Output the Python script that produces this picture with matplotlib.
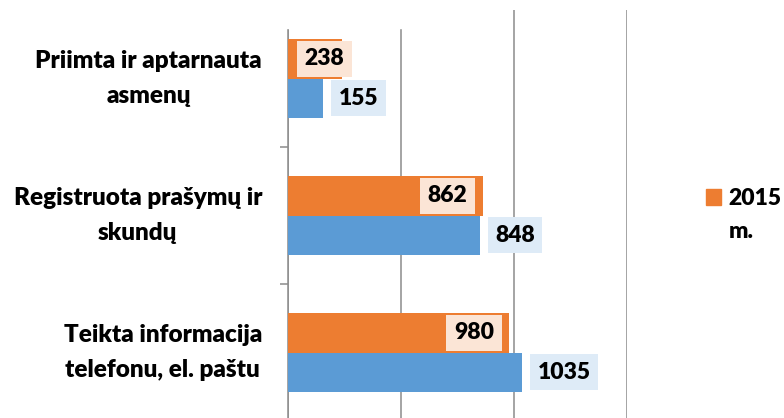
import matplotlib
matplotlib.use("Agg")
import matplotlib.pyplot as plt
from matplotlib.patches import Patch, Rectangle
from matplotlib.transforms import blended_transform_factory

plt.rcParams['font.family'] = ['Lato', 'DejaVu Sans']
WEIGHT = 'heavy'

categories = ["Priimta ir aptarnauta\nasmenų",
              "Registruota prašymų ir\nskundų",
              "Teikta informacija\ntelefonu, el. paštu"]
series_names = ["2015", "2014 m."]
values_2015 = [238, 862, 980]
values_2014 = [155, 848, 1035]

ORANGE = "#ED7D31"
BLUE = "#5B9BD5"
ORANGE_BOX = "#FBE5D6"
BLUE_BOX = "#DEEBF7"
GRID = "#8C8C8C"

W, H = 784, 418
fig = plt.figure(figsize=(W / 100, H / 100), dpi=100)
ax = fig.add_axes([288 / W, 1 - 421 / H, 339 / W, 411 / H])

xmax = 1500
ax.set_xlim(0, xmax)
ax.set_ylim(2.5, -0.5)
px = xmax / 339.0  # data units per pixel

bh = 0.285
ypos = list(range(len(categories)))
y_or = [y - bh / 2 for y in ypos]
y_bl = [y + bh / 2 for y in ypos]
ax.barh(y_or, values_2015, height=bh, color=ORANGE, zorder=3, label=series_names[0])
ax.barh(y_bl, values_2014, height=bh, color=BLUE, zorder=3, label=series_names[1])

fs = 16.5
# orange labels: inside end
for v, y in zip(values_2015, y_or):
    xc = max(v - 35.5 * px, 36.5 * px)
    ax.text(xc, y, str(v), ha='center', va='center', fontsize=fs,
            fontweight=WEIGHT, color='black', zorder=5,
            bbox=dict(boxstyle='square,pad=0.33', fc=ORANGE_BOX, ec='none'))
# blue labels: outside end
for v, y in zip(values_2014, y_bl):
    ax.text(v + 15.5 * px, y, str(v), ha='left', va='center', fontsize=fs,
            fontweight=WEIGHT, color='black', zorder=5,
            bbox=dict(boxstyle='square,pad=0.33', fc=BLUE_BOX, ec='none'))

# grid
ax.set_xticks([0, 500, 1000, 1500])
ax.xaxis.grid(True, color=GRID, linewidth=1.1, zorder=0)
ax.tick_params(axis='x', length=0, labelbottom=False)

# y axis: ticks at category boundaries
ax.set_yticks([0.5, 1.5])
ax.set_yticklabels([])
ax.tick_params(axis='y', which='major', length=5.8, width=1.1, color=GRID)

# category labels
trans = blended_transform_factory(ax.transAxes, ax.transData)
for y, c in zip(ypos, categories):
    ax.annotate(c, xy=(0, y), xycoords=trans, xytext=(-18.7, 0),
                textcoords='offset points', ha='right', va='center',
                multialignment='center', fontsize=17.5, fontweight=WEIGHT,
                linespacing=1.7, annotation_clip=False)

for s in ['top', 'right', 'bottom']:
    ax.spines[s].set_visible(False)
ax.spines['left'].set_color(GRID)
ax.spines['left'].set_linewidth(1.1)

# legend
leg = fig.legend(handles=[Patch(color=ORANGE)], labels=[series_names[0]],
                 loc='upper left', bbox_to_anchor=(706 / W, 1 - 188 / H),
                 frameon=False, prop=dict(size=fs, weight=WEIGHT),
                 handlelength=0.66, handleheight=0.66, handletextpad=0.3,
                 borderpad=0, borderaxespad=0)
fig.text(729 / W, 1 - 232 / H, "m.", ha='left', va='center', fontsize=fs,
         fontweight=WEIGHT)

# white mask at top-left (cropped area of source)
fig.add_artist(Rectangle((282 / W, 1 - 28 / H), (460 - 282) / W, 28 / H,
                         transform=fig.transFigure, color='white', zorder=10))

fig.savefig("out.png", dpi=100)
